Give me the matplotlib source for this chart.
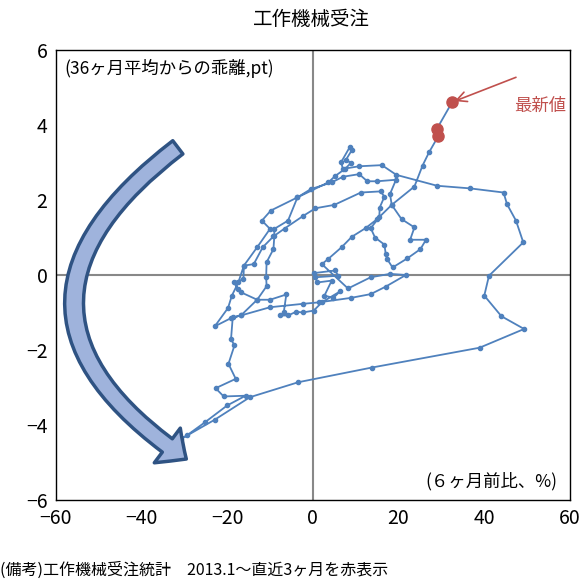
import matplotlib
matplotlib.use("Agg")
import matplotlib.pyplot as plt
from matplotlib.patches import FancyArrowPatch

plt.rcParams['font.family'] = ['Noto Sans CJK JP', 'DejaVu Sans']

x_vals = [0.2,5.2,5.9,0.6,1.0,4.4,2.7,4.8,6.3,2.1,0.2,-2.4,-3.9,-5.8,-7.7,-6.8,-6.2,-10.0,-13.0,-16.8,
          -17.4,-18.5,-16.2,-16.1,-13.8,-11.7,-9.2,-6.6,-2.2,0.6,5.0,11.2,15.8,16.7,15.6,15.5,13.5,14.5,16.7,17.0,
          17.3,18.6,22.0,25.1,26.4,22.7,23.7,20.7,18.4,18.0,19.4,15.0,12.7,10.8,7.0,4.4,-0.5,-3.6,-5.8,-9.0,
          -9.0,-9.2,-10.8,-10.9,-10.8,-13.0,-16.8,-18.7,-19.1,-18.3,-19.7,-18.0,-22.7,-20.8,-15.7,-20.0,-25.2,-29.3,-30.7,-22.9,
          -14.7,-3.4,13.7,38.9,49.3,44.0,40.0,41.1,49.1,47.4,45.3,44.5,36.7,29.0,19.5,16.1,10.8,7.0,6.6,8.6,
          9.1,7.7,8.9,7.5,5.2,3.6,-3.6,-9.8,-11.9,-10.0,-13.0,-16.1,-17.4,-18.9,-19.8,-22.9,-19.1,-16.8,-10.0,-2.4,
          1.4,8.9,13.5,17.0,21.7,18.0,13.5,8.2,2.1,3.6,6.7,9.1,12.3,15.0,18.4,23.7,25.6,27.1,29.3,28.9,32.5]
y_vals = [0.05,0.12,-0.02,-0.06,-0.2,-0.15,-0.55,-0.61,-0.44,-0.73,-0.95,-1.0,-0.98,-1.08,-1.08,-1.0,-0.52,-0.66,-0.66,-0.46,
          -0.37,-0.2,-0.12,0.25,0.29,0.74,1.03,1.24,1.58,1.78,1.87,2.2,2.23,2.09,1.8,1.54,1.25,1.0,0.81,0.56,
          0.43,0.2,0.44,0.69,0.94,0.94,1.27,1.49,1.87,2.16,2.54,2.5,2.5,2.69,2.62,2.47,2.29,2.07,1.45,1.23,
          1.03,0.69,0.34,-0.06,-0.3,-0.66,-1.08,-1.13,-1.71,-1.88,-2.37,-2.77,-3.02,-3.24,-3.22,-3.48,-3.93,-4.27,-4.37,-3.86,
          -3.26,-2.86,-2.47,-1.94,-1.44,-1.1,-0.55,-0.02,0.87,1.45,1.89,2.2,2.31,2.38,2.67,2.93,2.9,2.83,3.01,3.41,
          3.33,3.07,2.99,2.83,2.64,2.47,2.07,1.72,1.45,1.23,0.74,0.25,-0.2,-0.55,-0.88,-1.37,-1.15,-1.08,-0.86,-0.77,
          -0.73,-0.61,-0.51,-0.31,0.0,0.03,-0.06,-0.36,0.29,0.43,0.74,1.02,1.25,1.49,1.87,2.36,2.92,3.27,3.71,3.89,4.61]
n_recent = 3

blue = '#4f81bd'
red = '#c0504d'

fig = plt.figure(figsize=(5.87, 5.82), dpi=100)
ax = fig.add_axes([0.095, 0.141, 0.876, 0.773])
ax.set_xlim(-60, 60)
ax.set_ylim(-6, 6)
ax.axhline(0, color='#888888', lw=1.5, zorder=1)
ax.axvline(0, color='#888888', lw=1.5, zorder=1)

ax.plot(x_vals, y_vals, color=blue, lw=1.3, marker='o', ms=3, zorder=3)
ax.plot(x_vals[-n_recent:], y_vals[-n_recent:], color=red, lw=1.5, marker='o', ms=8, ls='none', zorder=4)

ax.set_xticks(range(-60, 61, 20))
ax.set_yticks(range(-6, 7, 2))
ax.tick_params(labelsize=14, length=0, pad=6)
for s in ax.spines.values():
    s.set_color('black')
    s.set_linewidth(1)

ax.text(-58, 5.75, '(36ヶ月平均からの乖離,pt)', fontsize=12.5, va='top', ha='left')
ax.text(57, -5.75, '(６ヶ月前比、%)', fontsize=12.5, va='bottom', ha='right')
ax.annotate('', xy=(x_vals[-1], y_vals[-1]), xytext=(48, 5.3),
            arrowprops=dict(arrowstyle='->', color=red, lw=1.2, mutation_scale=18))
ax.text(47, 4.5, '最新値', color=red, fontsize=12.5, ha='left', va='center')

arr = FancyArrowPatch((-31, 3.45), (-29, -4.95), connectionstyle='arc3,rad=0.7',
                      arrowstyle='simple,head_length=1.4,head_width=2.6,tail_width=1.0',
                      mutation_scale=12, facecolor='#9fb3dc', edgecolor='#2f5383', lw=2.5, zorder=5)
ax.add_patch(arr)

fig.text(0.53, 0.985, '工作機械受注', fontsize=14, ha='center', va='top')
fig.text(0.0, 0.005, '(備考)工作機械受注統計　2013.1～直近3ヶ月を赤表示', fontsize=11.5, ha='left', va='bottom')

fig.savefig('out.png', dpi=100)
